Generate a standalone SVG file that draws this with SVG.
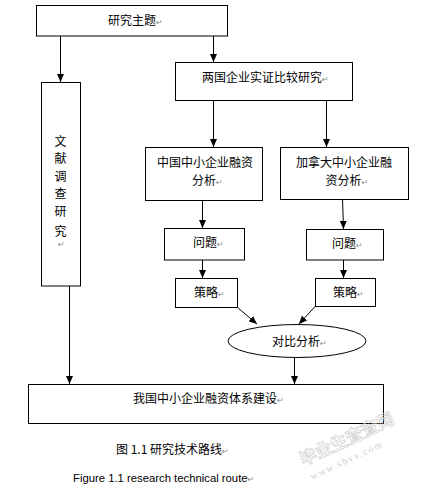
<svg xmlns="http://www.w3.org/2000/svg" width="422" height="491" viewBox="0 0 422 491">
<defs>
<style>
.box{fill:#fff;stroke:#000;stroke-width:1}
.t{font-family:"SimSun","Noto Sans CJK SC","Noto Sans CJK JP",sans-serif;font-size:12px;fill:#000}
.rm{font-family:"DejaVu Sans",sans-serif;font-size:8px;fill:#888}
.ln{stroke:#000;stroke-width:1;fill:none}
.wm{font-family:"Noto Sans CJK SC",sans-serif;fill:none;stroke:#c8c8c8;stroke-width:0.6;font-weight:bold}
</style>
<marker id="ah" markerUnits="userSpaceOnUse" markerWidth="8" markerHeight="8" viewBox="0 0 8 8" refX="8" refY="4" orient="auto">
<path d="M0,0.5 L8,4 L0,7.5 z" fill="#000"/>
</marker>
</defs>
<rect width="422" height="491" fill="#fff"/>
<g id="connectors">
<line class="ln" x1="60.5" y1="36" x2="60.5" y2="82" marker-end="url(#ah)"/>
<line class="ln" x1="213.5" y1="36" x2="213.5" y2="62" marker-end="url(#ah)"/>
<line class="ln" x1="213.5" y1="100" x2="213.5" y2="147" marker-end="url(#ah)"/>
<line class="ln" x1="326.5" y1="100" x2="326.5" y2="147" marker-end="url(#ah)"/>
<line class="ln" x1="202.5" y1="200" x2="202.5" y2="228" marker-end="url(#ah)"/>
<line class="ln" x1="342.5" y1="199" x2="343.5" y2="229" marker-end="url(#ah)"/>
<line class="ln" x1="202.5" y1="260" x2="202.5" y2="278" marker-end="url(#ah)"/>
<line class="ln" x1="343.5" y1="260" x2="343.5" y2="278" marker-end="url(#ah)"/>
<line class="ln" x1="237" y1="307" x2="257" y2="324" marker-end="url(#ah)"/>
<line class="ln" x1="315.5" y1="306" x2="299" y2="324" marker-end="url(#ah)"/>
<line class="ln" x1="294.5" y1="357" x2="294.5" y2="384" marker-end="url(#ah)"/>
<line class="ln" x1="69.5" y1="286" x2="69.5" y2="384" marker-end="url(#ah)"/>
</g>
<g id="n-topic">
<rect class="box" x="36.5" y="5.5" width="191" height="30.5"/>
<text class="t" x="108" y="25">研究主题<tspan class="rm">↵</tspan></text>
</g>
<g id="n-literature">
<rect class="box" x="41.5" y="82.5" width="39" height="203.5"/>
<text class="t" x="54.5" y="146">文</text>
<text class="t" x="54.5" y="163">献</text>
<text class="t" x="54.5" y="181">调</text>
<text class="t" x="54.5" y="198">查</text>
<text class="t" x="54.5" y="216">研</text>
<text class="t" x="54.5" y="236">究</text>
<text class="rm" x="58" y="247" font-size="7">↵</text>
</g>
<g id="n-compare">
<rect class="box" x="175.5" y="62.5" width="177" height="38"/>
<text class="t" x="202" y="81.5">两国企业实证比较研究<tspan class="rm">↵</tspan></text>
</g>
<g id="n-china">
<rect class="box" x="145.5" y="147.5" width="117" height="53"/>
<text class="t" x="157" y="166.5">中国中小企业融资</text>
<text class="t" x="192" y="185">分析<tspan class="rm">↵</tspan></text>
</g>
<g id="n-canada">
<rect class="box" x="280.5" y="147.5" width="128" height="52"/>
<text class="t" x="296" y="166.5">加拿大中小企业融</text>
<text class="t" x="325.5" y="185">资分析<tspan class="rm">↵</tspan></text>
</g>
<g id="n-problem-l">
<rect class="box" x="164.5" y="228.5" width="80" height="31.5"/>
<text class="t" x="193" y="247">问题<tspan class="rm">↵</tspan></text>
</g>
<g id="n-problem-r">
<rect class="box" x="306.5" y="229.5" width="77" height="30.5"/>
<text class="t" x="332" y="247.5">问题<tspan class="rm">↵</tspan></text>
</g>
<g id="n-strategy-l">
<rect class="box" x="175.5" y="278.5" width="62" height="29"/>
<text class="t" x="194" y="296.5">策略<tspan class="rm">↵</tspan></text>
</g>
<g id="n-strategy-r">
<rect class="box" x="315.5" y="278.5" width="60" height="28"/>
<text class="t" x="333" y="296.5">策略<tspan class="rm">↵</tspan></text>
</g>
<g id="n-analysis">
<ellipse class="box" cx="297" cy="341" rx="69" ry="16.5"/>
<text class="t" x="272" y="345.5">对比分析<tspan class="rm">↵</tspan></text>
</g>
<g id="n-system">
<rect class="box" x="28.5" y="384.5" width="355" height="39"/>
<text class="t" x="133" y="403">我国中小企业融资体系建设<tspan class="rm">↵</tspan></text>
</g>
<g id="captions">
<text class="t" x="116" y="453.5">图 1.1 研究技术路线<tspan class="rm">↵</tspan></text>
<text x="73" y="481.5" font-family="Liberation Sans, Arial, sans-serif" font-size="11.3" fill="#000">Figure 1.1 research technical route<tspan class="rm">↵</tspan></text>
</g>
<g id="watermark">
<text class="wm" font-size="17" transform="translate(303,466) rotate(-25)">毕业生查查网</text>
<text font-family="Liberation Serif, serif" font-size="10" fill="#d0d0d0" transform="translate(312,480) rotate(-25)" letter-spacing="1.5">www.sbvv.com</text>
</g>
</svg>
